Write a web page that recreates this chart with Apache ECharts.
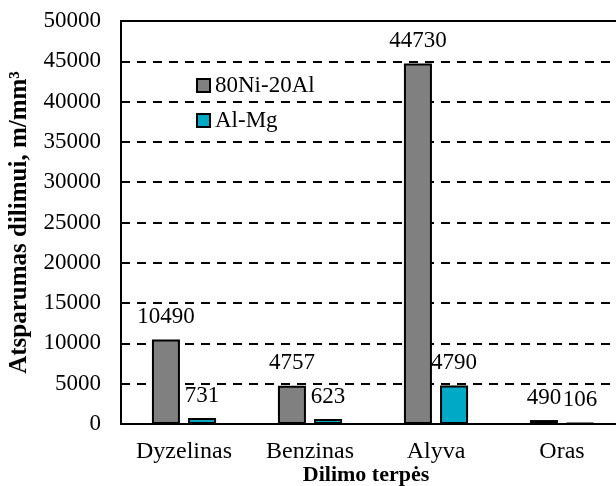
<!DOCTYPE html>
<html>
<head>
<meta charset="utf-8">
<script src="https://cdn.jsdelivr.net/npm/echarts@6/dist/echarts.min.js"></script>
<style>
  html, body { margin: 0; padding: 0; background: #fff; }
  #chart { width: 616px; height: 486px; }
</style>
</head>
<body>
<div id="chart"></div>
<script>
// duomenys
let categories = ['Dyzelinas', 'Benzinas', 'Alyva', 'Oras'];
let niAlValues = [10490, 4757, 44730, 490];
let alMgValues = [731, 623, 4790, 106];
let seriesNames = ['80Ni-20Al', 'Al-Mg'];

let font = 'Liberation Serif';

let myChart = echarts.init(document.getElementById('chart'));

let barLabel = {
    show: true,
    position: 'top',
    distance: 11,
    color: '#000',
    fontFamily: font,
    fontSize: 23
};

let option = {
    animation: false,
    backgroundColor: '#fff',
    grid: {
        left: 121,
        top: 21,
        bottom: 62,
        width: 504,
        containLabel: false,
        outerBoundsMode: 'none'
    },
    legend: {
        orient: 'vertical',
        left: 191,
        top: 69,
        itemWidth: 13,
        itemHeight: 13,
        itemGap: 12,
        icon: 'rect',
        textStyle: {
            fontFamily: font,
            fontSize: 23,
            lineHeight: 23,
            color: '#000'
        },
        data: seriesNames
    },
    xAxis: [{
        type: 'category',
        data: categories,
        name: 'Dilimo terpės',
        nameLocation: 'middle',
        nameGap: 40,
        nameMoveOverlap: false,
        nameTextStyle: {
            fontFamily: font,
            fontSize: 22,
            fontWeight: 'bold',
            color: '#000',
            padding: [0, 14, 0, 0]
        },
        axisLine: { lineStyle: { color: '#000', width: 2 } },
        axisTick: { show: false },
        axisLabel: {
            margin: 16,
            fontFamily: font,
            fontSize: 24,
            color: '#000'
        }
    }, {
        // viršutinė rėmo linija
        type: 'category',
        position: 'top',
        data: categories,
        axisLine: { lineStyle: { color: '#000', width: 2 } },
        axisTick: { show: false },
        axisLabel: { show: false }
    }],
    yAxis: {
        type: 'value',
        min: 0,
        max: 50000,
        interval: 5000,
        name: 'Atsparumas dilimui, m/mm³',
        nameLocation: 'middle',
        nameGap: 89,
        nameMoveOverlap: false,
        nameTextStyle: {
            fontFamily: font,
            fontSize: 25,
            fontWeight: 'bold',
            color: '#000'
        },
        axisLine: { show: true, lineStyle: { color: '#000', width: 2 } },
        axisTick: { show: false },
        axisLabel: {
            margin: 20,
            fontFamily: font,
            fontSize: 23,
            color: '#000',
            formatter: function (v) { return String(v); }
        },
        splitLine: {
            show: true,
            lineStyle: { color: '#000', width: 2, type: [9, 7] }
        }
    },
    series: [{
        name: seriesNames[0],
        type: 'bar',
        data: niAlValues,
        barWidth: 28,
        barGap: '29%',
        itemStyle: { color: '#808080', borderColor: '#000', borderWidth: 2 },
        label: barLabel
    }, {
        name: seriesNames[1],
        type: 'bar',
        data: alMgValues,
        barWidth: 28,
        barGap: '29%',
        itemStyle: { color: '#00a9c6', borderColor: '#000', borderWidth: 2 },
        label: barLabel
    }]
};
myChart.setOption(option);
</script>
</body>
</html>
